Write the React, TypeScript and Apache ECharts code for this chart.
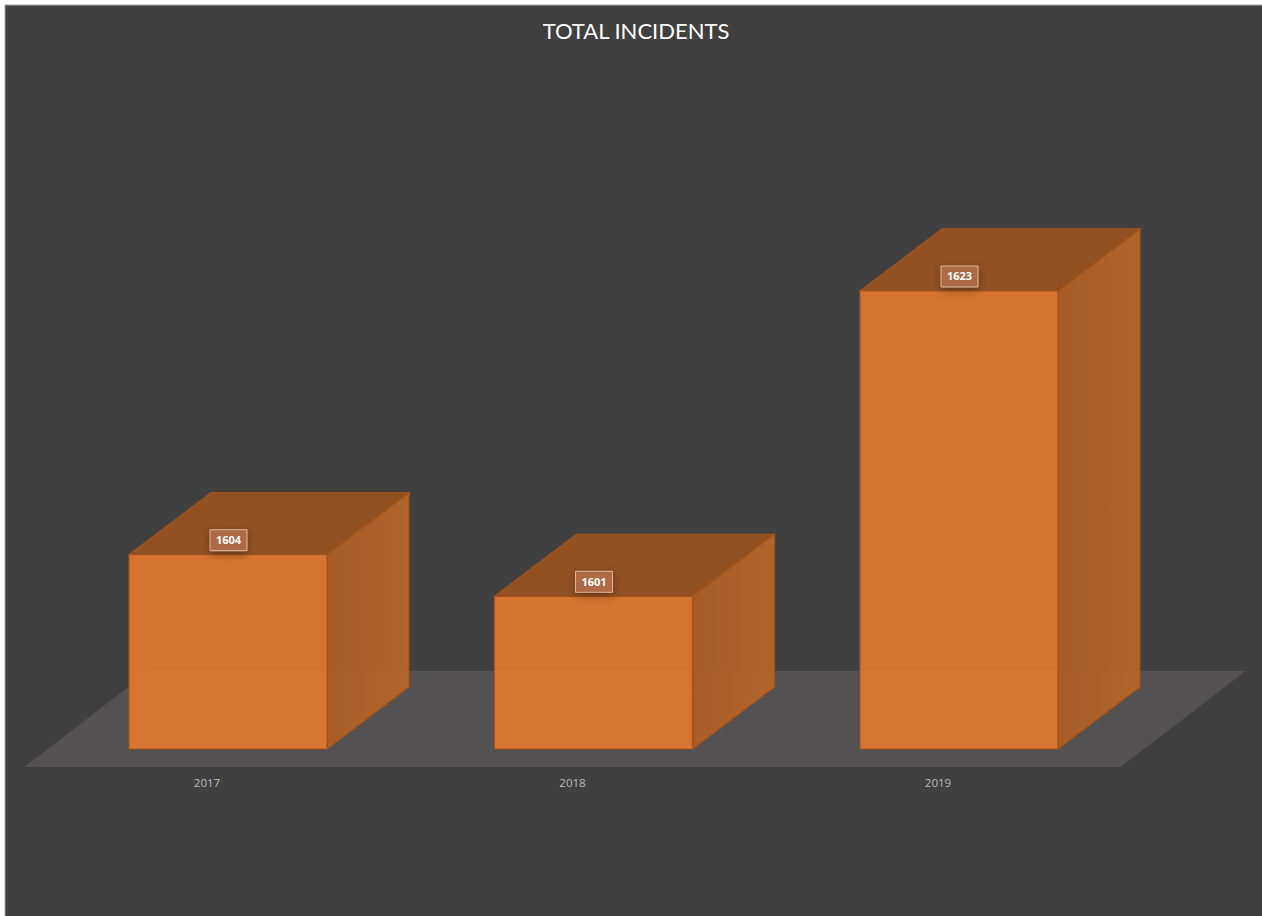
import React, { useEffect, useRef } from "react";
import * as echarts from "echarts";

const years = ["2017", "2018", "2019"];
const totals = [1604, 1601, 1623];
const chartTitle = "TOTAL INCIDENTS";

// Shape of the oblique boxes, in pixels.
const BAR_SHARE = 198 / 365.5;
const BAR_SHIFT = 21;
const DEPTH_X = 82;
const DEPTH_Y = 62;
const EDGE = "#A5521A";

const renderFloor = (params: any) => {
  const { x, y, width, height } = params.coordSys;
  const front = y + height + 18;
  return {
    type: "polygon",
    silent: true,
    shape: {
      points: [
        [x, front],
        [x + width, front],
        [x + width + 125, front - 96],
        [x + 125, front - 96],
      ],
    },
    style: { fill: "#535151" },
  };
};

const renderBox = (params: any, api: any) => {
  const idx = api.value(0);
  const value = api.value(1);
  const top = api.coord([idx, value]);
  const bottomY = params.coordSys.y + params.coordSys.height;
  const w = api.size([1, 0])[0] * BAR_SHARE;
  const cx = top[0] + BAR_SHIFT;
  const l = cx - w / 2;
  const r = cx + w / 2;
  const t = top[1];
  const edge = { stroke: EDGE, lineWidth: 1.2 };
  return {
    type: "group",
    children: [
      {
        type: "polygon",
        shape: { points: [[l, t], [l + DEPTH_X, t - DEPTH_Y], [r + DEPTH_X, t - DEPTH_Y], [r, t]] },
        style: { fill: "rgba(153,83,33,0.93)", ...edge },
      },
      {
        type: "polygon",
        shape: {
          points: [[r, t], [r + DEPTH_X, t - DEPTH_Y], [r + DEPTH_X, bottomY - DEPTH_Y], [r, bottomY]],
        },
        style: {
          fill: new echarts.graphic.LinearGradient(0, 0, 1, 0, [
            { offset: 0, color: "rgba(176,94,36,0.93)" },
            { offset: 1, color: "rgba(184,103,40,0.93)" },
          ]),
          ...edge,
        },
      },
      {
        type: "rect",
        shape: { x: l, y: t, width: w, height: bottomY - t },
        style: { fill: "rgba(224,120,47,0.93)", ...edge },
      },
      {
        type: "rect",
        shape: { x: cx - 18, y: t - 25, width: 37, height: 21 },
        style: {
          fill: "rgba(176,106,70,0.95)",
          stroke: "rgba(245,215,195,0.7)",
          lineWidth: 1,
          shadowBlur: 9,
          shadowOffsetY: 3,
          shadowColor: "rgba(0,0,0,0.35)",
        },
      },
      {
        type: "text",
        x: cx + 0.5,
        y: t - 15,
        style: {
          text: String(value),
          fill: "#ffffff",
          font: "bold 11px 'Open Sans'",
          align: "center",
          verticalAlign: "middle",
        },
      },
    ],
  };
};

export default function App() {
  const ref = useRef<HTMLDivElement>(null);

  useEffect(() => {
    document.body.style.margin = "0";
    document.body.style.overflow = "hidden";
    const chart = echarts.init(ref.current!, null, { renderer: "svg" });
    chart.setOption({
      animation: false,
      backgroundColor: "#ffffff",
      graphic: [
        {
          type: "rect",
          z: -1,
          silent: true,
          shape: { x: 5, y: 5, width: 1258, height: 912 },
          style: { fill: "#404040", stroke: "#a8a8a8", lineWidth: 1 },
        },
      ],
      title: {
        text: chartTitle,
        left: 631,
        top: 14,
        textAlign: "center",
        textStyle: { color: "#ffffff", fontFamily: "Lato", fontWeight: "normal", fontSize: 22 },
      },
      grid: { left: 24.25, width: 1096.5, top: 193.8, height: 555.2 },
      xAxis: {
        type: "category",
        data: years,
        axisLine: { show: false },
        axisTick: { show: false },
        splitLine: { show: false },
        axisLabel: { color: "#b8b8b8", fontFamily: "Open Sans", fontSize: 11.5, margin: 27 },
      },
      yAxis: { type: "value", min: 1590, max: 1630, show: false, splitLine: { show: false } },
      series: [
        {
          type: "custom",
          coordinateSystem: "cartesian2d",
          renderItem: renderFloor,
          data: [[0, 1590]],
          encode: { x: 0, y: 1 },
          silent: true,
          z: 1,
        },
        {
          type: "custom",
          coordinateSystem: "cartesian2d",
          renderItem: renderBox,
          data: totals.map((v, i) => [i, v]),
          encode: { x: 0, y: 1 },
          z: 2,
        },
      ],
    });
    return () => chart.dispose();
  }, []);

  return <div ref={ref} style={{ width: 1262, height: 916 }} />;
}
